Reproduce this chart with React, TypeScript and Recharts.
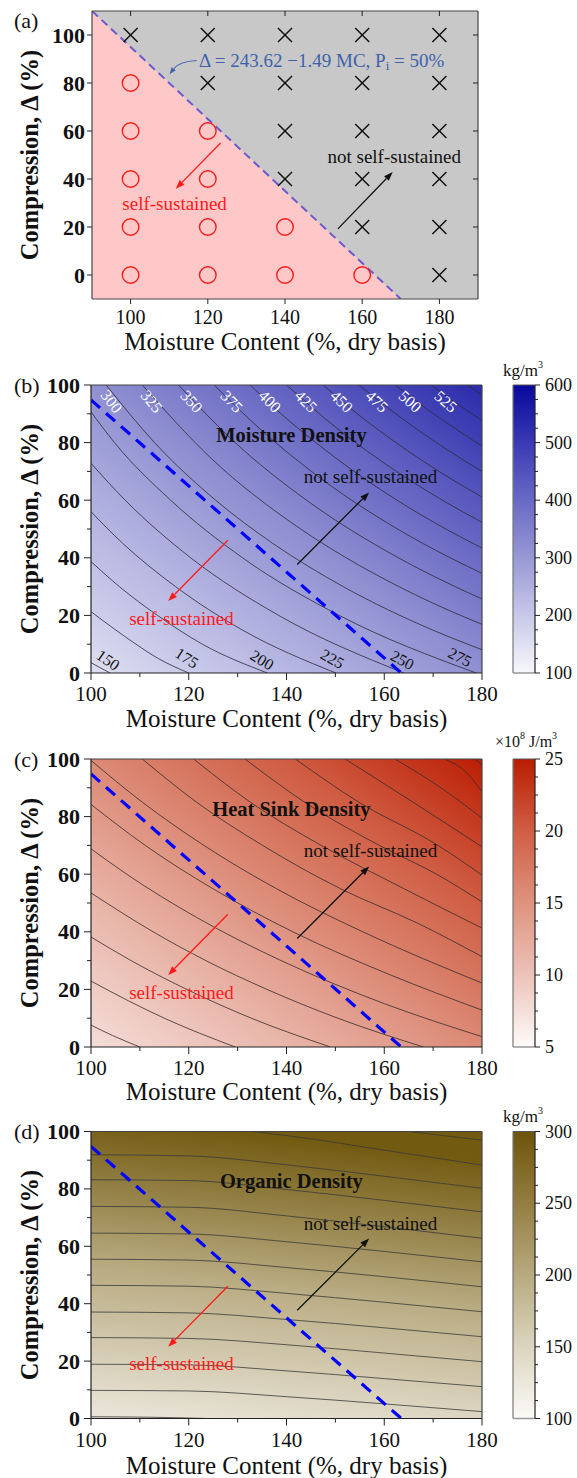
import React from 'react';
import {
  ComposedChart,
  XAxis,
  YAxis,
  CartesianGrid,
  Line,
  Area,
  Scatter,
  ReferenceLine,
  ReferenceDot,
} from 'recharts';

const FONT = "'Liberation Serif', 'Times New Roman', serif";
const W = 577;

// ---------- (a) experiment grid ----------
const selfMC = [100, 100, 100, 100, 100, 120, 120, 120, 120, 140, 140, 160];
const selfD = [0, 20, 40, 60, 80, 0, 20, 40, 60, 0, 20, 0];
const notMC = [100, 120, 120, 140, 140, 140, 140, 160, 160, 160, 160, 160, 180, 180, 180, 180, 180, 180];
const notD = [100, 80, 100, 40, 60, 80, 100, 20, 40, 60, 80, 100, 0, 20, 40, 60, 80, 100];
const boundaryMC = [90, 170];
const boundaryD = [110, -10];

// ---------- (b)-(d) critical line (P_i = 50%) ----------
const critMC = [100, 163.5];
const critD = [94.8, 0];

// ---------- (b) moisture density contours (kg/m3) ----------
const moistMC = [
  [100, 101.9, 103.9],
  [100, 104.6, 109.2, 113.8, 120.0],
  [100, 105.8, 113.6, 122.8, 136.1],
  [100, 106.5, 117.3, 130.9, 150.1],
  [100, 107.0, 120.4, 138.4, 164.0],
  [100, 104.8, 116.3, 131.0, 150.8, 178.8],
  [103.1, 113.0, 125.5, 137.2, 151.6, 169.8, 180],
  [110.5, 124.3, 142.9, 152.2, 163.0, 175.6, 180],
  [117.9, 129.5, 144.1, 162.9, 174.5, 180],
  [125.2, 134.4, 145.1, 162.7, 173.5, 180],
  [132.6, 138.9, 146.0, 162.6, 172.6, 180],
  [140.0, 150.3, 162.5, 171.9, 180],
  [147.5, 154.5, 162.4, 171.2, 180],
  [154.8, 160.4, 166.4, 172.9, 180],
  [162.2, 166.1, 170.1, 174.4, 180],
  [169.6, 173.6, 176.6, 180],
  [177.0, 180],
];
const moistD = [
  [3.6, 1.8, 0],
  [21.3, 15.5, 10, 5, 0],
  [38.7, 30, 20, 10, 0],
  [56, 45, 30, 15, 0],
  [72.8, 60, 40, 20, 0],
  [90.7, 80, 60, 40, 20, 0],
  [100, 80, 60, 45, 30, 15, 8.1],
  [100, 75, 50, 40, 30, 20, 16.9],
  [100, 80, 60, 40, 30, 25.7],
  [100, 85, 70, 50, 40, 34.6],
  [100, 90, 80, 60, 50, 43.4],
  [100, 85, 70, 60, 52.3],
  [100, 90, 80, 70, 61.1],
  [100, 92.5, 85, 77.5, 70],
  [100, 95, 90, 85, 78.8],
  [100, 95, 91.5, 87.7],
  [100, 96.5],
];
const moistLabelText = ['150', '175', '200', '225', '250', '275', '300', '325', '350', '375', '400', '425', '450', '475', '500', '525'];
const moistLabelMC = [103.5, 119.6, 135.0, 149.4, 163.7, 175.5, 104.2, 112.4, 120.6, 128.8, 136.6, 144.0, 151.3, 158.5, 165.3, 172.6];
const moistLabelD = [4.5, 5.2, 4.5, 4.9, 4.5, 5.5, 94.3, 94.3, 94.3, 94.3, 94.3, 94.3, 94.3, 94.3, 94.3, 94.3];
const moistLabelAngle = [35, 33, 31, 29, 28, 27, 52, 50, 48, 47, 46, 45, 44, 43, 42, 41];

// ---------- (c) heat sink density contours (x10^8 J/m3) ----------
const heatMC = [
  [100, 104.4, 110.0],
  [100, 107.7, 115.0, 129.5],
  [100, 108.2, 119.6, 132.8, 149.0],
  [100, 112.7, 123.5, 136.0, 150.5, 168.0],
  [100, 107.3, 121.6, 138.9, 160.1, 180],
  [100, 111.1, 124.9, 141.3, 161.3, 180],
  [100, 110.5, 123.1, 137.9, 155.6, 180],
  [110.5, 121.6, 135.1, 151.0, 166.8, 180],
  [121.0, 132.6, 147.1, 164.0, 180],
  [131.5, 143.7, 159.0, 170.7, 180],
  [141.8, 154.8, 171.0, 180],
  [152.0, 165.9, 180],
  [162.2, 171.6, 180],
  [172.3, 177.0, 180],
  [178.5, 180],
];
const heatD = [
  [7.6, 4, 0],
  [22.9, 16, 10, 0],
  [38.2, 30, 20, 10, 0],
  [53.5, 40, 30, 20, 10, 0],
  [68.8, 60, 45, 30, 15, 3.6],
  [84.2, 70, 55, 40, 25, 12.8],
  [99.5, 85, 70, 55, 40, 22.2],
  [100, 85, 70, 55, 43, 31.4],
  [100, 85, 70, 55, 41.3],
  [100, 85, 70, 60, 50.4],
  [100, 85, 70, 59.7],
  [100, 85, 69.5],
  [100, 90, 79.5],
  [100, 95, 88.6],
  [100, 98],
];

// ---------- (d) organic density contours (kg/m3) ----------
const organicMC = [
  [100, 112, 124],
  [100, 120, 140, 160, 180],
  [100, 120, 140, 160, 180],
  [100, 120, 140, 160, 180],
  [100, 120, 140, 160, 180],
  [100, 120, 140, 160, 180],
  [100, 120, 140, 160, 180],
  [100, 120, 140, 160, 180],
  [100, 120, 140, 160, 180],
  [100, 120, 140, 160, 180],
  [100, 120, 140, 160, 180],
  [133, 140, 160, 180],
  [165, 180],
];
const organicD = [
  [0.6, 0.45, 0],
  [9.8, 9.6, 7.6, 5.1, 2.4],
  [18.9, 18.7, 16.6, 13.9, 11.1],
  [28.2, 27.9, 25.7, 22.8, 19.8],
  [37.1, 36.8, 34.5, 31.6, 28.5],
  [46.4, 46.1, 43.6, 40.5, 37.2],
  [55.5, 55.2, 52.6, 49.4, 45.9],
  [64.6, 64.3, 61.6, 58.2, 54.6],
  [73.9, 73.6, 70.6, 66.8, 62.8],
  [83.2, 82.9, 79.8, 76.0, 72.0],
  [91.9, 91.5, 88.4, 84.4, 80.2],
  [100, 98.6, 93.5, 88.3],
  [100, 97],
];

// ---------- axis ticks ----------
const mcTicksA = [100, 120, 140, 160, 180];
const dTicksA = [0, 20, 40, 60, 80, 100];
const mcTicks = [100, 110, 120, 130, 140, 150, 160, 170, 180];
const dTicks = [0, 10, 20, 30, 40, 50, 60, 70, 80, 90, 100];
const cbTicksB = [100, 125, 150, 175, 200, 225, 250, 275, 300, 325, 350, 375, 400, 425, 450, 475, 500, 525, 550, 575, 600];
const cbMajorB = [100, 200, 300, 400, 500, 600];
const cbTicksC = [5, 6.25, 7.5, 8.75, 10, 11.25, 12.5, 13.75, 15, 16.25, 17.5, 18.75, 20, 21.25, 22.5, 23.75, 25];
const cbMajorC = [5, 10, 15, 20, 25];
const cbTicksD = [100, 112.5, 125, 137.5, 150, 162.5, 175, 187.5, 200, 212.5, 225, 237.5, 250, 262.5, 275, 287.5, 300];
const cbMajorD = [100, 150, 200, 250, 300];

const zip = (mc: number[], d: number[]) => mc.map((m, i) => ({ mc: m, d: d[i] }));

const makeXTick = (o: any) => (p: any) => {
  const v = p.payload.value;
  const major = o.majors.includes(v);
  const len = major ? o.majorLen : o.minorLen;
  return (
    <g>
      <line x1={p.x} x2={p.x} y1={p.y} y2={p.y + len} stroke="#222" strokeWidth={1} />
      {o.mirror != null && major && (
        <line x1={p.x} x2={p.x} y1={p.y - o.mirror} y2={p.y - o.mirror + len} stroke="#222" strokeWidth={1} />
      )}
      {major && (
        <text x={p.x} y={p.y + o.dy} textAnchor="middle" dominantBaseline="central" fontFamily={FONT} fontSize={o.size} fill="#111">
          {v}
        </text>
      )}
    </g>
  );
};

const makeYTick = (o: any) => (p: any) => {
  const v = p.payload.value;
  const major = o.majors.includes(v);
  const len = major ? o.majorLen : o.minorLen;
  return (
    <g>
      <line x1={p.x - len} x2={p.x} y1={p.y} y2={p.y} stroke="#222" strokeWidth={1} />
      {o.mirror != null && major && (
        <line x1={p.x + o.mirror - len} x2={p.x + o.mirror} y1={p.y} y2={p.y} stroke="#222" strokeWidth={1} />
      )}
      {major && (
        <text x={p.x - o.dx} y={p.y} textAnchor="end" dominantBaseline="central" fontFamily={FONT} fontSize={22} fontWeight="bold" fill="#111">
          {v}
        </text>
      )}
    </g>
  );
};

const makeCbTick = (majors: number[]) => (p: any) => {
  const v = p.payload.value;
  const major = majors.includes(v);
  return (
    <g>
      <line x1={p.x} x2={p.x + (major ? 5 : 3)} y1={p.y} y2={p.y} stroke="#222" strokeWidth={1} />
      {major && (
        <text x={p.x + 10} y={p.y} textAnchor="start" dominantBaseline="central" fontFamily={FONT} fontSize={18} fill="#111">
          {v}
        </text>
      )}
    </g>
  );
};

const arrowShape = (color: string) => (p: any) => {
  const { x1, y1, x2, y2 } = p;
  const a = Math.atan2(y2 - y1, x2 - x1);
  const L = 9;
  const H = 3.3;
  const bx = x2 - L * Math.cos(a);
  const by = y2 - L * Math.sin(a);
  const pts = `${x2},${y2} ${bx + H * Math.sin(a)},${by - H * Math.cos(a)} ${bx - H * Math.sin(a)},${by + H * Math.cos(a)}`;
  return (
    <g>
      <line x1={x1} y1={y1} x2={bx} y2={by} stroke={color} strokeWidth={1.3} />
      <polygon points={pts} fill={color} />
    </g>
  );
};

const curvedArrow = (p: any) => {
  const { x1, y1, x2, y2 } = p;
  const cx = x2 + (x1 - x2) * 0.35;
  const cy = y1 + 1;
  const a = Math.atan2(y2 - cy, x2 - cx);
  const L = 7;
  const H = 2.6;
  const bx = x2 - L * Math.cos(a);
  const by = y2 - L * Math.sin(a);
  const pts = `${x2},${y2} ${bx + H * Math.sin(a)},${by - H * Math.cos(a)} ${bx - H * Math.sin(a)},${by + H * Math.cos(a)}`;
  return (
    <g>
      <path d={`M${x1},${y1} Q${cx},${cy} ${bx},${by}`} fill="none" stroke="#3f62ab" strokeWidth={1.1} />
      <polygon points={pts} fill="#3f62ab" />
    </g>
  );
};

const textDot = (txt: string, o: any) => (p: any) => (
  <text
    x={p.cx}
    y={p.cy}
    textAnchor={o.anchor || 'middle'}
    dominantBaseline="central"
    fontFamily={FONT}
    fontSize={o.size}
    fontWeight={o.bold ? 'bold' : 'normal'}
    fill={o.color}
  >
    {txt}
  </text>
);

function PanelA() {
  const selfPts = zip(selfMC, selfD);
  const notPts = zip(notMC, notD);
  const boundary = zip(boundaryMC, boundaryD);
  return (
    <div style={{ position: 'absolute', left: 0, top: 0 }}>
      <ComposedChart width={W} height={372} margin={{ top: 11, right: 99, bottom: 0, left: 0 }}>
        <CartesianGrid fill="#c8c8c8" horizontal={false} vertical={false} />
        <XAxis
          dataKey="mc"
          type="number"
          domain={[90, 190]}
          ticks={mcTicksA}
          interval={0}
          allowDataOverflow
          height={73}
          tickSize={0}
          tickMargin={0}
          tickLine={false}
          axisLine={{ stroke: '#444', strokeWidth: 1.2 }}
          tick={makeXTick({ majors: mcTicksA, majorLen: 5, minorLen: 5, dy: 18, size: 20, mirror: 288 })}
        />
        <YAxis
          type="number"
          domain={[-10, 110]}
          ticks={dTicksA}
          interval={0}
          allowDataOverflow
          width={92}
          tickSize={0}
          tickMargin={0}
          tickLine={false}
          axisLine={{ stroke: '#444', strokeWidth: 1.2 }}
          tick={makeYTick({ majors: dTicksA, majorLen: 5, minorLen: 5, dx: 7, mirror: 386 })}
        />
        <Area data={boundary} dataKey="d" type="linear" baseValue="dataMin" fill="#ffc8c8" fillOpacity={1} stroke="none" isAnimationActive={false} />
        <Line data={boundary} dataKey="d" type="linear" stroke="#6a5acd" strokeWidth={2} strokeDasharray="8 5" dot={false} activeDot={false} isAnimationActive={false} />
        <Scatter
          data={selfPts}
          dataKey="d"
          isAnimationActive={false}
          shape={(p: any) => <circle cx={p.cx} cy={p.cy} r={8.3} fill="none" stroke="#ff1a1a" strokeWidth={1.4} />}
        />
        <Scatter
          data={notPts}
          dataKey="d"
          isAnimationActive={false}
          shape={(p: any) => (
            <g stroke="#111" strokeWidth={1.5}>
              <line x1={p.cx - 7} y1={p.cy - 7} x2={p.cx + 7} y2={p.cy + 7} />
              <line x1={p.cx - 7} y1={p.cy + 7} x2={p.cx + 7} y2={p.cy - 7} />
            </g>
          )}
        />
        <ReferenceLine y={110} stroke="#444" strokeWidth={1.2} />
        <ReferenceLine x={190} stroke="#444" strokeWidth={1.2} />
        <ReferenceLine segment={[{ x: 117.1, y: 89.4 }, { x: 110.1, y: 83.6 }]} shape={curvedArrow} />
        <ReferenceLine segment={[{ x: 123.3, y: 55 }, { x: 111.7, y: 35.9 }]} shape={arrowShape('#ff1a1a')} />
        <ReferenceLine segment={[{ x: 153.7, y: 19.2 }, { x: 167.9, y: 42.9 }]} shape={arrowShape('#111')} />
        <ReferenceDot
          x={117.7}
          y={89.5}
          r={0}
          shape={(p: any) => (
            <text x={p.cx} y={p.cy} dominantBaseline="central" fontFamily={FONT} fontSize={19} fill="#3f62ab">
              {'Δ = 243.62 −1.49 MC, P'}
              <tspan fontSize={13} dy={5}>i</tspan>
              <tspan dy={-5}>{' = 50%'}</tspan>
            </text>
          )}
        />
        <ReferenceDot x={111.4} y={30} r={0} shape={textDot('self-sustained', { size: 19, color: '#ff1a1a' })} />
        <ReferenceDot x={168.3} y={49.2} r={0} shape={textDot('not self-sustained', { size: 19, color: '#111' })} />
      </ComposedChart>
    </div>
  );
}

function DensityPanel(props: any) {
  const { top, height, marginTop, axisH, bg, cb, cbDomain, cbTicks, cbMajor, lines, title, lineColor, labels } = props;
  const crit = zip(critMC, critD);
  const cbRange = [{ x: 0.5, v: cbDomain[0] }, { x: 0.5, v: cbDomain[1] }];
  return (
    <>
      <div style={{ position: 'absolute', left: 0, top }}>
        <ComposedChart width={W} height={height} margin={{ top: marginTop, right: 95, bottom: 0, left: 0 }}>
          <CartesianGrid fill={`url(#${bg})`} fillOpacity={1} horizontal={false} vertical={false} />
          <XAxis
            dataKey="mc"
            type="number"
            domain={[100, 180]}
            ticks={mcTicks}
            interval={0}
            allowDataOverflow
            height={axisH}
            tickSize={0}
            tickMargin={0}
            tickLine={false}
            axisLine={{ stroke: '#222', strokeWidth: 1.2 }}
            tick={makeXTick({ majors: mcTicksA, majorLen: 7, minorLen: 4, dy: 21, size: 21 })}
          />
          <YAxis
            type="number"
            domain={[0, 100]}
            ticks={dTicks}
            interval={0}
            allowDataOverflow
            width={91}
            tickSize={0}
            tickMargin={0}
            tickLine={false}
            axisLine={{ stroke: '#222', strokeWidth: 1.2 }}
            tick={makeYTick({ majors: dTicksA, majorLen: 7, minorLen: 4, dx: 11 })}
          />
          {lines.map((pts: any, i: number) => (
            <Line
              key={i}
              data={pts}
              dataKey="d"
              type="monotone"
              stroke={lineColor}
              strokeWidth={0.8}
              dot={false}
              activeDot={false}
              isAnimationActive={false}
            />
          ))}
          <Line data={crit} dataKey="d" type="linear" stroke="#0000ff" strokeWidth={3.2} strokeDasharray="12 8" dot={false} activeDot={false} isAnimationActive={false} />
          {labels && (
            <Scatter
              data={labels}
              dataKey="d"
              isAnimationActive={false}
              shape={(p: any) => (
                <text
                  x={p.cx}
                  y={p.cy}
                  transform={`rotate(${p.payload.angle} ${p.cx} ${p.cy})`}
                  textAnchor="middle"
                  dominantBaseline="central"
                  fontFamily={FONT}
                  fontSize={16}
                  fill={p.payload.d > 50 ? '#ffffff' : '#111'}
                >
                  {p.payload.label}
                </text>
              )}
            />
          )}
          <ReferenceLine y={100} stroke="#444" strokeWidth={1.2} />
          <ReferenceLine x={180} stroke="#444" strokeWidth={1.2} />
          <ReferenceLine segment={[{ x: 128.0, y: 46.1 }, { x: 115.8, y: 25.0 }]} shape={arrowShape('#ff1a1a')} />
          <ReferenceLine segment={[{ x: 142.2, y: 37.7 }, { x: 156.9, y: 62.7 }]} shape={arrowShape('#111')} />
          <ReferenceDot x={141.0} y={82.6} r={0} shape={textDot(title, { size: 20.5, color: '#111', bold: true })} />
          <ReferenceDot x={157.2} y={68.1} r={0} shape={textDot('not self-sustained', { size: 19, color: '#111' })} />
          <ReferenceDot x={118.5} y={19.0} r={0} shape={textDot('self-sustained', { size: 19, color: '#ff1a1a' })} />
        </ComposedChart>
      </div>
      <div style={{ position: 'absolute', left: 0, top }}>
        <ComposedChart width={W} height={height} margin={{ top: marginTop, right: 0, bottom: axisH, left: 513 }}>
          <CartesianGrid fill={`url(#${cb})`} fillOpacity={1} horizontal={false} vertical={false} />
          <XAxis dataKey="x" type="number" domain={[0, 1]} allowDataOverflow hide />
          <YAxis
            type="number"
            orientation="right"
            domain={cbDomain}
            ticks={cbTicks}
            interval={0}
            allowDataOverflow
            width={42}
            tickSize={0}
            tickMargin={0}
            tickLine={false}
            axisLine={{ stroke: '#222', strokeWidth: 1.2 }}
            tick={makeCbTick(cbMajor)}
          />
          <Line data={cbRange} dataKey="v" stroke="none" dot={false} activeDot={false} isAnimationActive={false} />
          <ReferenceLine x={0} stroke="#777" strokeWidth={1.2} />
          <ReferenceLine y={cbDomain[1]} stroke="#555" strokeWidth={1} />
          <ReferenceLine y={cbDomain[0]} stroke="#999" strokeWidth={1.5} />
        </ComposedChart>
      </div>
    </>
  );
}

function Gradients() {
  return (
    <svg width={0} height={0} style={{ position: 'absolute' }}>
      <defs>
        <linearGradient id="bgB" x1="0" y1="1" x2="1" y2="0">
          <stop offset="0" stopColor="#dedef1" />
          <stop offset="0.25" stopColor="#b8b8e3" />
          <stop offset="0.5" stopColor="#9090d2" />
          <stop offset="0.75" stopColor="#6060c1" />
          <stop offset="1" stopColor="#2a2aac" />
        </linearGradient>
        <linearGradient id="cbB" x1="0" y1="1" x2="0" y2="0">
          <stop offset="0" stopColor="#f7f7fc" />
          <stop offset="0.2" stopColor="#c8c8e9" />
          <stop offset="0.4" stopColor="#9898d5" />
          <stop offset="0.6" stopColor="#6969c6" />
          <stop offset="0.8" stopColor="#3a3ab5" />
          <stop offset="1" stopColor="#07079c" />
        </linearGradient>
        <linearGradient id="bgC" x1="0" y1="1" x2="1" y2="0">
          <stop offset="0" stopColor="#f4ddd8" />
          <stop offset="0.25" stopColor="#e9b6aa" />
          <stop offset="0.5" stopColor="#dc8a76" />
          <stop offset="0.75" stopColor="#cf5c42" />
          <stop offset="1" stopColor="#bb1e04" />
        </linearGradient>
        <linearGradient id="cbC" x1="0" y1="1" x2="0" y2="0">
          <stop offset="0" stopColor="#fefbfa" />
          <stop offset="0.25" stopColor="#ecc2b9" />
          <stop offset="0.5" stopColor="#df937f" />
          <stop offset="0.75" stopColor="#d05e44" />
          <stop offset="1" stopColor="#b91d02" />
        </linearGradient>
        <linearGradient id="bgD" x1="0.2" y1="1" x2="0.35" y2="0">
          <stop offset="0" stopColor="#e8e3d6" />
          <stop offset="0.5" stopColor="#b8aa80" />
          <stop offset="1" stopColor="#725a10" />
        </linearGradient>
        <linearGradient id="cbD" x1="0" y1="1" x2="0" y2="0">
          <stop offset="0" stopColor="#fbfaf7" />
          <stop offset="0.25" stopColor="#dcd5bf" />
          <stop offset="0.5" stopColor="#b8aa80" />
          <stop offset="0.75" stopColor="#947d40" />
          <stop offset="1" stopColor="#6d540b" />
        </linearGradient>
      </defs>
    </svg>
  );
}

function Titles() {
  const panels = [
    { letter: '(a)', top: 11, mid: 155, xt: 341, cx: 285 },
    { letter: '(b)', top: 385, mid: 529, xt: 718, cx: 286.5 },
    { letter: '(c)', top: 759, mid: 903, xt: 1091, cx: 286.5 },
    { letter: '(d)', top: 1131.5, mid: 1275, xt: 1465, cx: 286.5 },
  ];
  return (
    <svg width={W} height={1478} style={{ position: 'absolute', left: 0, top: 0, pointerEvents: 'none' }}>
      {panels.map((p) => (
        <g key={p.letter} fontFamily={FONT} fill="#111">
          <text x={14} y={p.letter === '(a)' ? 20 : p.top} dominantBaseline="central" fontSize={22}>
            {p.letter}
          </text>
          <text
            x={29}
            y={p.mid}
            transform={`rotate(-90 29 ${p.mid})`}
            textAnchor="middle"
            dominantBaseline="central"
            fontSize={24.5}
            fontWeight="bold"
          >
            Compression, Δ (%)
          </text>
          <text x={p.cx} y={p.xt} textAnchor="middle" dominantBaseline="central" fontSize={25}>
            Moisture Content (%, dry basis)
          </text>
        </g>
      ))}
      <g fontFamily={FONT} fill="#111">
        <text x={523} y={370} textAnchor="middle" dominantBaseline="central" fontSize={17}>
          kg/m<tspan fontSize={10} dy={-6}>3</tspan>
        </text>
        <text x={526} y={741} textAnchor="middle" dominantBaseline="central" fontSize={16}>
          ×10<tspan fontSize={10} dy={-6}>8</tspan>
          <tspan dy={6}> J/m</tspan>
          <tspan fontSize={10} dy={-6}>3</tspan>
        </text>
        <text x={523} y={1116} textAnchor="middle" dominantBaseline="central" fontSize={17}>
          kg/m<tspan fontSize={10} dy={-6}>3</tspan>
        </text>
      </g>
    </svg>
  );
}

export default function App() {
  const moistLines = moistMC.map((mc, i) => zip(mc, moistD[i]));
  const moistLabels = moistLabelText.map((label, i) => ({
    mc: moistLabelMC[i],
    d: moistLabelD[i],
    label,
    angle: moistLabelAngle[i],
  }));
  const heatLines = heatMC.map((mc, i) => zip(mc, heatD[i]));
  const organicLines = organicMC.map((mc, i) => zip(mc, organicD[i]));

  return (
    <div style={{ position: 'relative', width: W, height: 1478, background: '#fff', fontFamily: FONT }}>
      <style>{'body{margin:0}'}</style>
      <Gradients />
      <PanelA />
      <DensityPanel
        top={372}
        height={374}
        marginTop={13}
        axisH={73}
        bg="bgB"
        cb="cbB"
        cbDomain={[100, 600]}
        cbTicks={cbTicksB}
        cbMajor={cbMajorB}
        lines={moistLines}
        lineColor="#2a2a3a"
        labels={moistLabels}
        title="Moisture Density"
      />
      <DensityPanel
        top={746}
        height={374}
        marginTop={13}
        axisH={73}
        bg="bgC"
        cb="cbC"
        cbDomain={[5, 25]}
        cbTicks={cbTicksC}
        cbMajor={cbMajorC}
        lines={heatLines}
        lineColor="#3a2a2a"
        title="Heat Sink Density"
      />
      <DensityPanel
        top={1120}
        height={358}
        marginTop={11.5}
        axisH={59.5}
        bg="bgD"
        cb="cbD"
        cbDomain={[100, 300]}
        cbTicks={cbTicksD}
        cbMajor={cbMajorD}
        lines={organicLines}
        lineColor="#3a3a3a"
        title="Organic Density"
      />
      <Titles />
    </div>
  );
}
